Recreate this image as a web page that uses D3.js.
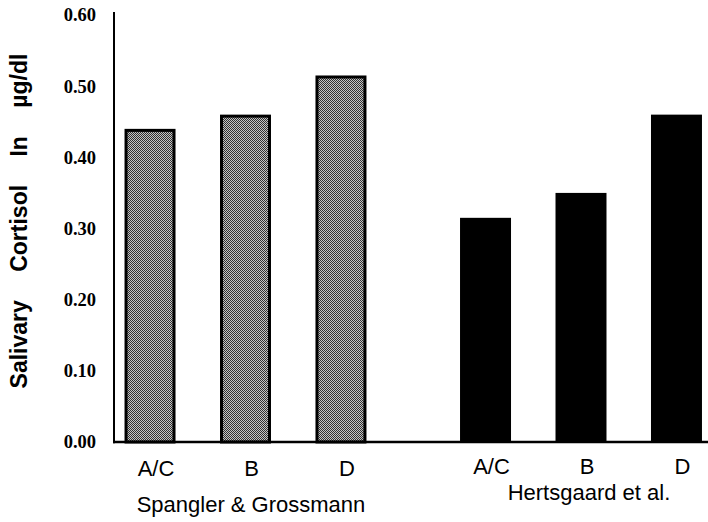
<!DOCTYPE html>
<html>
<head>
<meta charset="utf-8">
<script src="https://cdn.jsdelivr.net/npm/d3@7"></script>
<style>
  html, body { margin: 0; padding: 0; background: #fff; }
  svg { display: block; }
</style>
</head>
<body>
<svg id="chart" width="708" height="522"></svg>
<script>
// ---- data ----
const groups = ["Spangler & Grossmann", "Hertsgaard et al."];
const categories = ["A/C", "B", "D"];
const spanglerValues = [0.44, 0.46, 0.515];
const hertsgaardValues = [0.315, 0.35, 0.46];
const yTicks = [0, 0.1, 0.2, 0.3, 0.4, 0.5, 0.6];
const yTitle = "Salivary Cortisol In µg/dl";

const seriesValues = [spanglerValues, hertsgaardValues];
const rows = [];
groups.forEach((g, gi) => categories.forEach((c, ci) => rows.push({group: g, gi, cat: c, value: seriesValues[gi][ci]})));

const svg = d3.select("#chart");

const y = d3.scaleLinear().domain([0, 0.6]).range([442, 15]);
const x0 = d3.scaleBand().domain(groups).range([77.75, 748.75]).paddingInner(0).paddingOuter(0);
const x1 = d3.scaleBand().domain(categories).range([0, x0.bandwidth()]).paddingInner(0.466).paddingOuter(0.49);

// stipple pattern
const defs = svg.append("defs");
const pat = defs.append("pattern").attr("id", "stipple").attr("patternUnits", "userSpaceOnUse")
  .attr("width", 2).attr("height", 2);
pat.append("rect").attr("width", 2).attr("height", 2).attr("fill", "#c4c4c4");
pat.append("rect").attr("x", 0).attr("y", 0).attr("width", 1).attr("height", 1).attr("fill", "#303030");
pat.append("rect").attr("x", 1).attr("y", 1).attr("width", 1).attr("height", 1).attr("fill", "#303030");

// bars
const axisX = 114;
svg.append("g").selectAll("rect").data(rows).join("rect")
  .attr("x", d => x0(d.group) + x1(d.cat) + (d.gi === 0 ? 1.5 : 0))
  .attr("y", d => y(d.value) + (d.gi === 0 ? 1.5 : 0))
  .attr("width", d => x1.bandwidth() - (d.gi === 0 ? 3 : 0))
  .attr("height", d => y(0) - y(d.value) - (d.gi === 0 ? 1.5 : 0))
  .attr("fill", d => d.gi === 0 ? "url(#stipple)" : "#000")
  .attr("stroke", d => d.gi === 0 ? "#000" : "none")
  .attr("stroke-width", 3);

// y axis
const yAxis = d3.axisLeft(y).tickValues(yTicks).tickFormat(d3.format(".2f")).tickSize(0).tickPadding(18);
const gy = svg.append("g").attr("transform", `translate(${axisX},0)`).call(yAxis);
gy.select(".domain").remove();
gy.selectAll("text")
  .attr("font-family", "'Liberation Serif', 'Times New Roman', serif")
  .attr("font-weight", "bold")
  .attr("font-size", 18.5)
  .attr("fill", "#000");

// axis lines
svg.append("line").attr("x1", axisX).attr("x2", axisX).attr("y1", y(0.6) - 3).attr("y2", y(0) + 1.2)
  .attr("stroke", "#000").attr("stroke-width", 2);
svg.append("line").attr("x1", axisX - 1).attr("x2", 708).attr("y1", y(0)).attr("y2", y(0))
  .attr("stroke", "#000").attr("stroke-width", 2.6);

// category labels
svg.append("g").selectAll("text").data(rows).join("text")
  .attr("x", d => x0(d.group) + x1(d.cat) + x1.bandwidth() / 2 + 6)
  .attr("y", d => d.gi === 0 ? 476 : 474)
  .attr("text-anchor", "middle")
  .attr("font-family", "'Liberation Sans', Arial, sans-serif")
  .attr("font-size", 22)
  .attr("fill", "#000")
  .text(d => d.cat);

// group labels
svg.append("g").selectAll("text").data(groups).join("text")
  .attr("x", (g, i) => x0(g) + x0.bandwidth() / 2 + (i === 0 ? 5.5 : 8))
  .attr("y", (g, i) => i === 0 ? 512 : 500)
  .attr("text-anchor", "middle")
  .attr("font-family", "'Liberation Sans', Arial, sans-serif")
  .attr("font-size", 22)
  .attr("fill", "#000")
  .text(g => g);

// y title
svg.append("text")
  .attr("transform", "translate(27,221) rotate(-90)")
  .attr("text-anchor", "middle")
  .attr("font-family", "'Liberation Sans', Arial, sans-serif")
  .attr("font-weight", "bold")
  .attr("font-size", 23)
  .style("word-spacing", "22px")
  .attr("fill", "#000")
  .text(yTitle);
</script>
</body>
</html>
